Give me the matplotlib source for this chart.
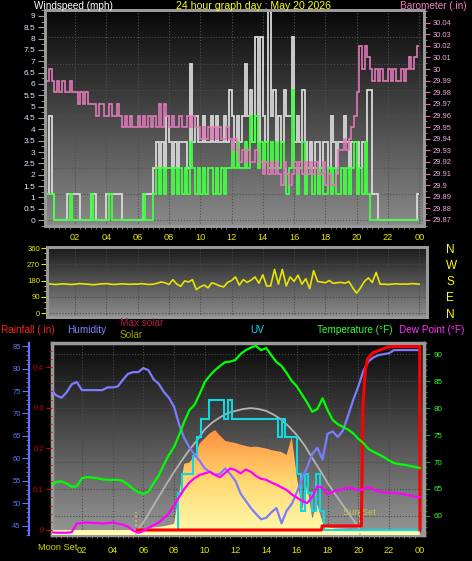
import numpy as np
import matplotlib
matplotlib.use('Agg')
import matplotlib.pyplot as plt
from matplotlib.colors import LinearSegmentedColormap
from matplotlib.ticker import MultipleLocator, FuncFormatter

plt.rcParams['font.family'] = ['Liberation Sans', 'DejaVu Sans']

# ---------------- data ----------------
hour_ticks = [2, 4, 6, 8, 10, 12, 14, 16, 18, 20, 22, 24]
hour_labels = ['02', '04', '06', '08', '10', '12', '14', '16', '18', '20', '22', '00']

# wind in knots, 10 minute steps (plotted in mph)
gust_kt = [1, 1, 4, 1, 0, 0, 0, 0, 0, 1, 1, 1, 1, 1, 0, 0, 0, 0, 1, 1, 0, 0, 0, 0,
           1, 1, 1, 1, 1, 1, 0, 0, 0, 0, 0, 0, 0, 0, 1, 1, 1, 1, 2, 3, 2, 3, 2, 4,
           3, 2, 3, 2, 3, 3, 3, 2, 6, 3, 4, 3, 3, 4, 3, 3, 4, 3, 4, 3, 3, 4, 3, 5,
           4, 3, 4, 3, 4, 6, 4, 5, 3, 7, 3, 7, 4, 3, 8, 4, 5, 3, 4, 3, 5, 4, 4, 7,
           3, 4, 3, 5, 3, 2, 3, 2, 3, 3, 2, 3, 3, 2, 4, 3, 2, 3, 3, 4, 3, 2, 3, 3,
           3, 2, 3, 3, 5, 5, 1, 1, 0, 0, 0, 0, 0, 0, 0, 0, 0, 0, 0, 0, 0, 0, 0, 1]
speed_kt = [0, 1, 1, 1, 0, 0, 0, 0, 0, 0, 1, 0, 0, 0, 0, 0, 0, 0, 1, 0, 0, 0, 0, 0,
            0, 1, 0, 0, 0, 0, 0, 0, 0, 0, 0, 0, 0, 0, 1, 0, 0, 0, 1, 2, 1, 2, 1, 2,
            2, 1, 2, 1, 2, 1, 2, 1, 3, 2, 1, 2, 1, 2, 1, 2, 2, 1, 2, 1, 2, 1, 2, 2,
            3, 2, 3, 2, 2, 3, 2, 4, 3, 4, 2, 3, 2, 3, 2, 3, 2, 3, 2, 3, 2, 1, 2, 5,
            2, 1, 2, 3, 1, 2, 2, 1, 2, 1, 2, 1, 1, 2, 1, 2, 1, 1, 2, 1, 2, 1, 2, 3,
            1, 2, 1, 3, 1, 0, 0, 0, 0, 0, 0, 0, 0, 0, 0, 0, 0, 0, 0, 0, 0, 0, 0, 0]

# barometer, 10 minute steps
baro_in = [30.00, 29.99, 30.00, 29.99, 29.98, 29.99, 29.98, 29.99, 29.98, 29.98, 29.99, 29.98,
           29.98, 29.97, 29.98, 29.97, 29.98, 29.97, 29.97, 29.97, 29.96, 29.97, 29.97, 29.96,
           29.96, 29.97, 29.96, 29.96, 29.97, 29.96, 29.95, 29.96, 29.95, 29.96, 29.95, 29.95,
           29.96, 29.95, 29.96, 29.95, 29.96, 29.95, 29.96, 29.95, 29.97, 29.95, 29.97, 29.96,
           29.95, 29.96, 29.95, 29.95, 29.96, 29.95, 29.95, 29.96, 29.95, 29.96, 29.95, 29.95,
           29.94, 29.95, 29.94, 29.95, 29.94, 29.95, 29.94, 29.95, 29.94, 29.94, 29.95, 29.94,
           29.93, 29.94, 29.93, 29.92, 29.93, 29.92, 29.93, 29.92, 29.92, 29.93, 29.92, 29.92,
           29.91, 29.92, 29.91, 29.92, 29.91, 29.92, 29.91, 29.90, 29.92, 29.91, 29.90, 29.91,
           29.92, 29.91, 29.92, 29.91, 29.92, 29.91, 29.92, 29.91, 29.92, 29.91, 29.91, 29.92,
           29.90, 29.91, 29.90, 29.90, 29.91, 29.93, 29.93, 29.94, 29.93, 29.94, 29.95, 29.96,
           29.98, 30.02, 30.00, 30.02, 30.01, 30.00, 29.99, 30.00, 29.99, 30.00, 29.99, 29.99,
           30.00, 29.99, 30.00, 29.99, 29.99, 30.00, 29.99, 30.00, 30.01, 30.00, 30.01, 30.02]

# wind direction, 15 minute steps
wind_dir = [165, 163, 160, 158, 160, 162, 160, 158, 160, 163, 162, 160, 158, 157,
            160, 162, 163, 160, 158, 160, 162, 160, 159, 161, 160, 163, 160, 158, 160,
            165, 172, 168, 158, 185, 160, 148, 178, 172, 185, 130, 145, 155, 140, 168,
            160, 150, 145, 170, 180, 200, 155, 185, 170, 182, 200, 165, 212, 150, 150,
            242, 160, 242, 150, 200, 175, 210, 160, 190, 135, 235, 175, 172, 168, 180,
            165, 168, 170, 165, 175, 140, 110, 140, 175, 195, 170, 225, 160, 160, 158,
            160, 162, 160, 161, 160, 163, 162, 160]
compass = ['N', 'E', 'S', 'W', 'N']

# 20 minute steps for the lower panel
humidity = [75.2, 74.0, 73.5, 74.7, 76.5, 77.0, 75.2, 75.2, 75.2, 75.2, 75.2, 75.8,
            75.8, 76.0, 77.5, 78.8, 79.2, 79.2, 80.1, 79.6, 77.6, 76.6, 74.8, 73.5,
            71.5, 67.5, 64.5, 62.5, 60.8, 59.5, 57.8, 57.0, 56.4, 56.6, 57.8, 56.5,
            55.0, 52.2, 50.6, 49.0, 47.7, 46.5, 46.8, 48.0, 49.0, 45.6, 48.4, 49.9,
            52.5, 55.5, 58.0, 61.0, 62.4, 59.8, 65.5, 66.0, 64.8, 66.2, 69.5, 73.0,
            76.0, 79.5, 81.6, 82.5, 83.0, 83.2, 83.4, 84.1, 84.1, 84.1, 84.1, 84.1, 84.1]
temperature = [65.7, 66.3, 66.4, 66.0, 65.4, 65.5, 67.0, 67.2, 67.1, 67.0, 66.8, 66.7,
               66.7, 66.7, 66.5, 65.8, 65.0, 64.4, 64.1, 64.5, 66.1, 67.5, 69.5, 71.3,
               72.8, 75.0, 77.5, 79.6, 80.6, 82.6, 84.8, 86.0, 87.0, 87.8, 88.5, 88.6,
               88.9, 90.0, 90.7, 91.2, 91.5, 90.7, 91.1, 89.8, 88.5, 87.8, 86.5, 85.0,
               84.0, 82.5, 81.0, 79.3, 79.8, 81.8, 79.6, 77.8, 77.0, 76.5, 76.0, 75.3,
               74.3, 73.5, 72.4, 71.9, 71.4, 70.9, 70.3, 69.8, 69.6, 69.5, 69.3, 69.1, 68.9]
dew_point = [57.0, 56.9, 56.9, 56.9, 57.0, 58.6, 58.7, 58.8, 58.7, 58.7, 58.6, 58.7,
             58.8, 58.6, 58.4, 58.0, 57.3, 56.9, 57.2, 57.8, 58.3, 58.8, 59.6, 60.5,
             62.0, 63.5, 65.0, 66.2, 67.0, 67.6, 67.9, 68.2, 67.6, 67.2, 68.0, 68.8,
             68.5, 67.9, 68.6, 68.2, 67.4, 66.9, 66.7, 66.2, 65.8, 65.3, 64.8, 64.0,
             63.4, 62.8, 62.4, 63.5, 65.5, 65.2, 64.0, 64.5, 64.8, 65.0, 65.3, 65.1,
             64.7, 65.0, 65.4, 64.9, 64.5, 64.4, 64.3, 64.3, 64.2, 64.0, 63.8, 63.6, 63.5]
solar_wm2 = [0, 0, 0, 0, 0, 0, 0, 0, 0, 0, 0, 0, 0, 0, 0, 0, 0,
             5, 10, 15, 20, 25, 30, 38, 48, 290, 520, 530, 580, 680, 720, 760, 785,
             740, 700, 690, 683, 670, 660, 651, 655, 648, 640, 628, 620, 612, 589,
             730, 420, 150, 350, 90, 200, 60, 20, 15, 12, 10, 8, 5, 2,
             0, 0, 0, 0, 0, 0, 0, 0, 0, 0, 0, 0]

max_solar_hours = [5.6, 6.0, 6.5, 7.0, 7.5, 8.0, 8.5, 9.0, 9.5, 10.0, 10.5, 11.0, 11.5,
                   12.0, 12.5, 13.0, 13.5, 14.0, 14.5, 15.0, 15.5, 16.0, 16.5, 17.0,
                   17.5, 18.0, 18.5, 19.0, 19.5, 20.0, 20.1]
max_solar_wm2 = [0, 60, 160, 260, 360, 455, 545, 630, 705, 790, 845, 885, 918, 935, 950,
                 957, 950, 935, 905, 865, 810, 745, 665, 565, 470, 370, 280, 195, 110, 20, 0]

uv_edges = [5.5, 8.0, 8.25, 8.5, 8.75, 9.0, 9.25, 9.5, 9.75, 10.0, 10.25, 10.5, 10.75,
            11.0, 11.25, 11.5, 11.75, 12.0, 12.25, 12.5, 12.75, 13.0, 13.25, 13.5,
            13.75, 14.0, 14.25, 14.5, 14.75, 15.0, 15.25, 15.5, 15.75, 16.0, 16.25,
            16.5, 16.75, 17.0, 17.25, 17.5, 17.75, 18.0, 24.2]
uv_index = [0, 0, 2, 3, 3, 3, 4, 5, 6, 6, 7, 7, 7, 7, 6, 7, 6, 6, 6, 6, 6, 6, 6, 6, 6,
            6, 6, 6, 5, 6, 5, 5, 5, 3, 1, 3, 2, 1, 3, 1, 0, 0]

rain_hours = [5.6, 17.6, 17.65, 20.2, 20.3, 20.45, 20.6, 20.95, 22.0, 24.0, 24.02]
rain_in = [0.0, 0.0, 0.01, 0.01, 0.30, 0.39, 0.42, 0.435, 0.45, 0.45, 0.0]

sunrise_h, sunset_h = 5.55, 20.1

# ---------------- helpers ----------------
W, H = 472, 561
fig = plt.figure(figsize=(W / 100, H / 100), dpi=100, facecolor='black')


def box(l, t, r, b):
    return [l / W, 1 - b / H, (r - l) / W, (b - t) / H]


def px(x, y):
    return x / W, 1 - y / H


def shade(ax, top, bottom):
    cmap = LinearSegmentedColormap.from_list('bg', [top, bottom])
    ax.imshow(np.linspace(0, 1, 200).reshape(-1, 1), cmap=cmap, aspect='auto',
              extent=[0, 1, 0, 1], transform=ax.transAxes, zorder=0)


def grey_frame(ax, lw=2.0):
    for s in ax.spines.values():
        s.set_color('#9a9a9a')
        s.set_linewidth(lw)


YEL = '#e8e800'

# ---------------- top panel: wind speed and barometer ----------------
t10 = np.arange(len(gust_kt) + 1) / 6
t20 = np.arange(len(humidity)) / 3

ax_w = fig.add_axes(box(45, 10, 424, 226))
shade(ax_w, '#080808', '#8a8a8a')
ax_w.set_axisbelow(True)
for k in range(9):
    ax_w.axhline(k * 1.15, color='#505050', ls=':', lw=0.8, zorder=0.5)
ax_w.stairs(np.array(gust_kt) * 1.15, t10, baseline=None, color='#d8d8d8', lw=1.3, zorder=3)
ax_w.stairs(np.array(speed_kt) * 1.15, t10, baseline=None, color='#44ff44', lw=1.3, zorder=4)
ax_w.set_xlim(0.08, 24.3)
ax_w.set_ylim(-0.26, 9.26)
ax_w.set_xticks(hour_ticks, hour_labels)
ax_w.xaxis.set_minor_locator(MultipleLocator(1 / 3))
ax_w.tick_params(axis='x', which='major', length=0, pad=5, labelsize=6.6, labelcolor=YEL)
ax_w.tick_params(axis='x', which='minor', length=2, color='#808080')
ax_w.grid(axis='x', color='#505050', ls=':', lw=0.8)
ax_w.set_yticks(np.arange(0, 9.01, 0.5))
ax_w.yaxis.set_minor_locator(MultipleLocator(0.25))
ax_w.yaxis.set_major_formatter(FuncFormatter(lambda v, p: f'{v:g}'))
ax_w.tick_params(axis='y', which='both', color='#a0a0a0', labelcolor='#dce6ff',
                 labelsize=6, length=5, pad=2)
ax_w.tick_params(axis='y', which='minor', length=3)
grey_frame(ax_w)

ax_p = ax_w.twinx()
ax_p.stairs(baro_in, t10, baseline=None, color='#e07ab8', lw=1.2)
ax_p.set_ylim(29.8648, 30.0509)
ax_p.set_yticks(np.arange(29.87, 30.045, 0.01))
ax_p.yaxis.set_minor_locator(MultipleLocator(0.005))
ax_p.yaxis.set_major_formatter(FuncFormatter(lambda v, p: f'{round(v, 2):g}'))
ax_p.tick_params(axis='y', which='both', color='#e070b0', labelcolor='#f0a8e0',
                 labelsize=5.4, length=4, pad=2)
ax_p.tick_params(axis='y', which='minor', length=2)
grey_frame(ax_p)

fig.text(*px(34, 6), 'Windspeed (mph)', color='white', fontsize=7.2, va='center')
fig.text(*px(253, 6), '24 hour graph day : May 20 2026', color='#ffff00', fontsize=7.6,
         va='center', ha='center')
fig.text(*px(467, 6), 'Barometer (.in)', color='#f080c0', fontsize=7.2, va='center', ha='right')

# ---------------- middle panel: wind direction ----------------
t15 = np.arange(len(wind_dir)) / 4
ax_d = fig.add_axes(box(47, 247, 427, 317))
shade(ax_d, '#1a1a1a', '#8e8e8e')
ax_d.set_axisbelow(True)
ax_d.plot(t15, wind_dir, color='#e6e600', lw=1.2, zorder=3)
ax_d.set_xlim(0.2, 24.5)
ax_d.set_ylim(-22, 366)
ax_d.set_xticks(hour_ticks)
ax_d.tick_params(axis='x', length=0, labelbottom=False)
ax_d.grid(color='#4a4a4a', ls=':', lw=0.8)
ax_d.set_yticks([0, 90, 180, 270, 360])
ax_d.yaxis.set_minor_locator(MultipleLocator(30))
ax_d.tick_params(axis='y', which='both', colors=YEL, labelsize=5.6, length=4, pad=1)
ax_d.tick_params(axis='y', which='minor', length=2)
grey_frame(ax_d)
ax_d2 = ax_d.twinx()
ax_d2.set_ylim(-22, 366)
ax_d2.set_yticks([0, 90, 180, 270, 360], compass)
ax_d2.tick_params(axis='y', length=0, pad=14, labelsize=8.5, labelcolor='#ffff00')
grey_frame(ax_d2)

# ---------------- bottom panel ----------------
rb = box(52, 343, 424, 535)
XL = (0.05, 24.28)
T_LIM = (56.48, 92.04)
S_LIM = (-39, 1468)

ax_bg = fig.add_axes(rb)
shade(ax_bg, '#0a0a0a', '#979797')
ax_bg.set_axisbelow(True)
ax_bg.set_xlim(*XL)
ax_bg.set_ylim(*T_LIM)
ax_bg.set_xticks(hour_ticks, hour_labels)
ax_bg.xaxis.set_minor_locator(MultipleLocator(1 / 3))
ax_bg.tick_params(axis='x', which='major', length=0, pad=8, labelsize=6.6, labelcolor=YEL)
ax_bg.tick_params(axis='x', which='minor', length=2, color='#808080')
ax_bg.yaxis.tick_right()
ax_bg.set_yticks(np.arange(60, 91, 5))
ax_bg.yaxis.set_minor_locator(MultipleLocator(1))
ax_bg.tick_params(axis='y', which='both', color='#20a020', labelcolor='#30ff30',
                  labelsize=5.8, length=4, pad=3)
ax_bg.tick_params(axis='y', which='minor', length=2)
ax_bg.grid(color='#4a4a4a', ls=':', lw=0.8)
grey_frame(ax_bg, 2.5)

# solar and max solar
ax_s = fig.add_axes(rb)
ax_s.axis('off')
poly = ax_s.fill_between(t20, solar_wm2, S_LIM[0], color='none', lw=0)
sol_cmap = LinearSegmentedColormap.from_list('sol', ['#fffcb0', '#ffd870', '#ff8c3c'])
im = ax_s.imshow(np.linspace(0, 1, 200).reshape(-1, 1), cmap=sol_cmap, origin='lower',
                 aspect='auto', extent=[0, 24.3, S_LIM[0], 800], zorder=1)
im.set_clip_path(poly.get_paths()[0], transform=ax_s.transData)
ax_s.plot(max_solar_hours, max_solar_wm2, color='#b4b4b4', lw=1.3, zorder=2)
for h in (sunrise_h, sunset_h):
    ax_s.axvline(h, ymin=0.0, ymax=0.12, color='#d8d040', ls=':', lw=1.2)
ax_s.text(sunset_h, 141, 'Sun Set', color='#c8c050', fontsize=6.6, ha='center', va='center')
ax_s.set_xlim(*XL)
ax_s.set_ylim(*S_LIM)

# UV
ax_u = fig.add_axes(rb)
ax_u.axis('off')
ax_u.stairs(uv_index, uv_edges, baseline=None, color='#10d8e0', lw=1.5)
ax_u.set_xlim(*XL)
ax_u.set_ylim(-0.27, 10.1)

# humidity
ax_h = fig.add_axes(rb)
ax_h.patch.set_visible(False)
ax_h.plot(t20, humidity, color='#7c7cff', lw=1.6)
ax_h.set_xlim(*XL)
ax_h.set_ylim(42.99, 85.67)
ax_h.set_xticks([])
for s in ('top', 'right', 'bottom'):
    ax_h.spines[s].set_visible(False)
ax_h.spines['left'].set_position(('axes', (29 - 52) / 372))
ax_h.spines['left'].set_color('#6070ff')
ax_h.spines['left'].set_linewidth(1.6)
ax_h.set_yticks(np.arange(45, 86, 5))
ax_h.yaxis.set_minor_locator(MultipleLocator(1))
ax_h.tick_params(axis='y', which='both', color='#6070ff', labelcolor='#5878ff',
                 labelsize=5.4, length=5, pad=1)
ax_h.tick_params(axis='y', which='minor', length=2.5)

# rainfall
ax_r = fig.add_axes(rb)
ax_r.patch.set_visible(False)
ax_r.plot(rain_hours, rain_in, color='#ff0000', lw=2.2)
ax_r.set_xlim(*XL)
ax_r.set_ylim(-0.0123, 0.4589)
ax_r.set_xticks([])
for s in ('top', 'right', 'bottom', 'left'):
    ax_r.spines[s].set_visible(False)
ax_r.set_yticks([0, 0.1, 0.2, 0.3, 0.4])
ax_r.yaxis.set_minor_locator(MultipleLocator(0.02))
ax_r.yaxis.set_major_formatter(FuncFormatter(lambda v, p: f'{v:g}'))
ax_r.tick_params(axis='y', which='both', color='#d00000', labelcolor='#d00000',
                 labelsize=5.4, length=4, pad=2)
ax_r.tick_params(axis='y', which='minor', length=2)

# temperature and dew point
ax_tt = fig.add_axes(rb)
ax_tt.axis('off')
ax_tt.plot(t20, temperature, color='#00ff00', lw=1.6)
ax_tt.plot(t20, dew_point, color='#ff00ff', lw=1.6)
ax_tt.set_xlim(*XL)
ax_tt.set_ylim(*T_LIM)

# legend row and moon label
fig.text(*px(1, 330), 'Rainfall (.in)', color='#ff2020', fontsize=7.2, va='center')
fig.text(*px(67, 330), 'Humidity', color='#8080ff', fontsize=7.2, va='center')
fig.text(*px(120, 323), 'Max solar', color='#b02048', fontsize=7.2, va='center')
fig.text(*px(120, 335), 'Solar', color='#a0a000', fontsize=7.2, va='center')
fig.text(*px(250, 330), 'UV', color='#00e0ff', fontsize=7.2, va='center')
fig.text(*px(317, 330), 'Temperature (°F)', color='#30ff30', fontsize=7.2, va='center')
fig.text(*px(399, 330), 'Dew Point (°F)', color='#ff30ff', fontsize=7.2, va='center')
fig.text(*px(38, 548), 'Moon Set', color='#d8d800', fontsize=6.6, va='center')

fig.savefig('out.png', dpi=100, facecolor='black')
